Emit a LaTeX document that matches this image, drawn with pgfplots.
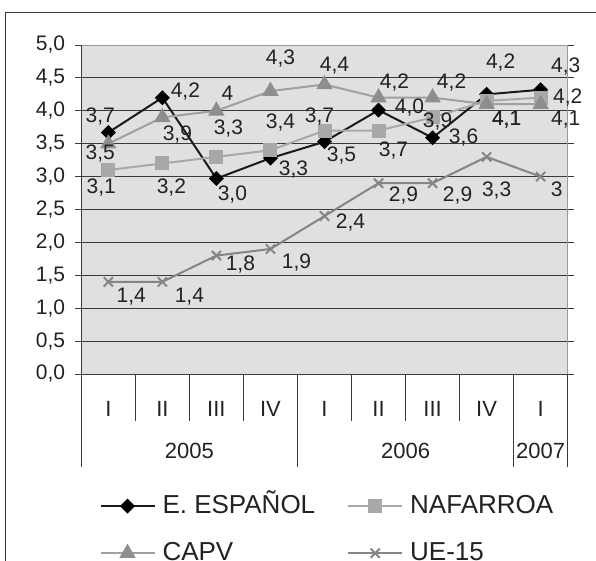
\documentclass[border=0pt]{standalone}
\usepackage{pgfplots}
\pgfplotsset{compat=1.18}
\usepackage{pgfplotstable}
\usepackage{fontspec}
\setmainfont{Liberation Sans}
\definecolor{txt}{HTML}{222222}
\definecolor{plotbg}{HTML}{E0E0E0}
\definecolor{gridc}{HTML}{3A3A3A}
\definecolor{bordc}{HTML}{999999}
\definecolor{espc}{HTML}{1A1A1A}
\definecolor{nafc}{HTML}{A8A8A8}
\definecolor{capvl}{HTML}{A0A0A0}
\definecolor{capvm}{HTML}{8E8E8E}
\definecolor{uec}{HTML}{858585}

\pgfplotstableread{
x y lab dx dy
0.5 3.67 3,7 -8 16
1.5 4.20 4,2 23 6
2.5 2.97 3,0 16 -16
3.5 3.28 3,3 23 -11
4.5 3.53 3,5 17 -14
5.5 4.01 4,0 31 3
6.5 3.59 3,6 31 0
7.5 4.25 4,2 14 32
8.5 4.32 4,3 25 23
}\esp
\pgfplotstableread{
x y lab dx dy
0.5 3.1 3,1 -7 -17
1.5 3.2 3,2 9 -24
2.5 3.3 3,3 12 28
3.5 3.4 3,4 10 28
4.5 3.7 3,7 -5 14
5.5 3.7 3,7 15 -20
6.5 3.9 3,9 5 -4
7.5 4.15 4,1 20 -18.3
8.5 4.2 4,2 27 0
}\naf
\pgfplotstableread{
x y lab dx dy
0.5 3.5 3,5 -8 -10
1.5 3.9 3,9 15 -17
2.5 4.0 4 11 18
3.5 4.3 4,3 10 33
4.5 4.4 4,4 10 19
5.5 4.2 4,2 16 15
6.5 4.2 4,2 19 15
7.5 4.1 4,1 20 -15
8.5 4.1 4,1 25 -15
}\capv
\pgfplotstableread{
x y lab dx dy
0.5 1.4 1,4 23 -15
1.5 1.4 1,4 27 -15
2.5 1.8 1,8 24 -9
3.5 1.9 1,9 26 -14
4.5 2.4 2,4 26 -6
5.5 2.9 2,9 25 -12
6.5 2.9 2,9 25 -12
7.5 3.3 3,3 10 -34
8.5 3.0 3 16 -13
}\ue

\pgfplotsset{
  lbl/.style={
    nodes near coords,
    point meta=explicit symbolic,
    visualization depends on={\thisrow{dx} \as \dx},
    visualization depends on={\thisrow{dy} \as \dy},
    nodes near coords align={anchor=center},
    every node near coord/.append style={anchor=center, inner sep=0pt,
      xshift=\dx pt, yshift=\dy pt, font=\fontsize{21}{25}\selectfont, text=txt},
  }
}

\begin{document}
\begin{tikzpicture}
\useasboundingbox (-81.3pt,-187pt) rectangle (514.7pt,374pt);
\draw[color=gridc, line width=1pt] (-75.6pt,-190pt) -- (-75.6pt,361.7pt) -- (520pt,361.7pt);
\begin{axis}[
  scale only axis, width=486.4pt, height=329pt,
  xmin=0, xmax=9, ymin=0, ymax=5,
  clip=false,
  axis background/.style={fill=plotbg},
  axis line style={draw=bordc, line width=1pt},
  ytick={0,0.5,1,1.5,2,2.5,3,3.5,4,4.5,5},
  ymajorgrids, major grid style={draw=gridc, line width=0.9pt},
  tick align=outside, major tick length=6pt,
  ytick style={draw=gridc, line width=0.9pt},
  xtick style={draw=none},
  yticklabel style={/pgf/number format/fixed, /pgf/number format/fixed zerofill,
    /pgf/number format/precision=1, /pgf/number format/use comma,
    /pgf/number format/assume math mode=true,
    font=\fontsize{21}{25}\selectfont, text=txt, anchor=east, inner sep=0pt, xshift=-10pt},
  xtick={0.5,1.5,2.5,3.5,4.5,5.5,6.5,7.5,8.5},
  xticklabels={I,II,III,IV,I,II,III,IV,I},
  xticklabel style={font=\fontsize{22}{26}\selectfont, text=txt, anchor=center, inner sep=0pt, yshift=-29pt},
  legend columns=2,
  legend cell align=left,
  legend style={draw=none, fill=none, inner sep=0pt,
    at={(axis cs:0,0)}, anchor=north west, xshift=18pt, yshift=-118pt,
    font=\fontsize{26}{31}\selectfont, text=txt,
    nodes={inner sep=2pt, text height=19pt, text depth=5pt},
    row sep=19pt,
    /tikz/every odd column/.append style={column sep=5pt},
    /tikz/every even column/.append style={column sep=30pt}},
  legend image code/.code={
    \draw[mark repeat=2, mark phase=2, line width=2pt, #1] plot coordinates {(0pt,0pt) (27pt,0pt) (54pt,0pt)};
  },
]
\addplot[color=espc, line width=2pt, mark=square*, mark size=4.3pt,
  mark options={rotate=45, solid, fill=black, draw=black}, lbl]
  table[x=x, y=y, meta=lab] {\esp};
\addlegendentry{E. ESPAÑOL}
\addplot[color=nafc, line width=2pt, mark=square*, mark size=6pt,
  mark options={solid, fill=nafc, draw=nafc}, lbl]
  table[x=x, y=y, meta=lab] {\naf};
\addlegendentry{NAFARROA}
\addplot[color=capvl, line width=2pt, mark=triangle*, mark size=7.5pt,
  mark options={solid, fill=capvm, draw=capvm}, lbl]
  table[x=x, y=y, meta=lab] {\capv};
\addlegendentry{CAPV}
\addplot[color=uec, line width=2pt, mark=x, mark size=6.5pt,
  mark options={solid, draw=uec, line width=2pt}, lbl]
  table[x=x, y=y, meta=lab] {\ue};
\addlegendentry{UE-15}
% borders
\draw[bordc, line width=1pt] (rel axis cs:0,1) -- (rel axis cs:1,1) -- (rel axis cs:1,0);
\draw[gridc, line width=1pt] (rel axis cs:0,1) -- (rel axis cs:0,0) -- (rel axis cs:1,0);
% category separators
\draw[gridc, line width=0.9pt] (axis cs:1,0) -- ++(0pt,-47pt);
\draw[gridc, line width=0.9pt] (axis cs:2,0) -- ++(0pt,-47pt);
\draw[gridc, line width=0.9pt] (axis cs:3,0) -- ++(0pt,-47pt);
\draw[gridc, line width=0.9pt] (axis cs:5,0) -- ++(0pt,-47pt);
\draw[gridc, line width=0.9pt] (axis cs:6,0) -- ++(0pt,-47pt);
\draw[gridc, line width=0.9pt] (axis cs:7,0) -- ++(0pt,-47pt);
\draw[gridc, line width=0.9pt] (axis cs:0,0) -- ++(0pt,-93pt);
\draw[gridc, line width=0.9pt] (axis cs:4,0) -- ++(0pt,-93pt);
\draw[gridc, line width=0.9pt] (axis cs:8,0) -- ++(0pt,-93pt);
\draw[gridc, line width=0.9pt] (axis cs:9,0) -- ++(0pt,-93pt);
\node[font=\fontsize{22}{26}\selectfont, text=txt, inner sep=0pt] at ([yshift=-77pt]axis cs:2,0) {2005};
\node[font=\fontsize{22}{26}\selectfont, text=txt, inner sep=0pt] at ([yshift=-77pt]axis cs:6,0) {2006};
\node[font=\fontsize{22}{26}\selectfont, text=txt, inner sep=0pt] at ([yshift=-77pt]axis cs:8.5,0) {2007};
\end{axis}
\end{tikzpicture}
\end{document}
